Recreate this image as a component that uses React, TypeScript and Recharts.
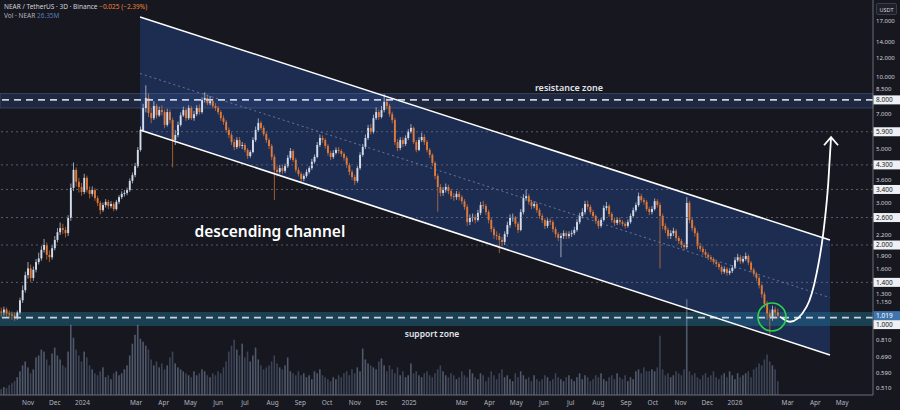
import React from 'react';
import {
    ComposedChart,
    Bar,
    Area,
    Line,
    XAxis,
    YAxis,
    ReferenceArea,
    ReferenceLine,
    ReferenceDot,
} from 'recharts';

// 3D candles, day offsets counted from 1 Nov 2023
const START_DAY = -30;
const STEP = 3;
const FIRST_OPEN = 1.06;

const closes = [
    1.05, 1.08, 1.04, 1.03, 1.02, 1.0, 1.05, 1.18, 1.3, 1.5,
    1.6, 1.46, 1.58, 1.7, 1.76, 1.91, 2.0, 1.82, 1.78, 1.94,
    2.1, 2.26, 2.35, 2.31, 2.24, 2.59, 3.45, 4.1, 3.66, 3.48,
    3.32, 3.8, 3.38, 3.26, 3.38, 3.13, 2.99, 2.79, 2.93, 3.02,
    2.9, 2.96, 2.82, 3.02, 3.16, 3.26, 3.29, 3.38, 3.69, 3.9,
    4.25, 4.96, 6.0, 7.4, 8.15, 7.06, 6.72, 7.55, 6.9, 7.26,
    7.12, 6.3, 7.12, 6.6, 5.45, 5.72, 6.3, 6.9, 7.26, 6.72,
    7.4, 6.72, 6.98, 7.4, 7.12, 7.99, 8.15, 7.75, 7.9, 7.55,
    7.4, 7.12, 6.72, 6.48, 6.0, 5.72, 5.35, 5.1, 5.45, 5.15,
    5.2, 4.96, 4.68, 4.86, 5.45, 6.0, 6.42, 6.12, 5.77, 5.45,
    5.15, 4.64, 4.1, 4.02, 4.17, 4.06, 4.25, 4.6, 4.91, 4.51,
    4.1, 3.94, 3.76, 3.87, 4.02, 4.17, 4.43, 4.64, 5.2, 5.56,
    5.45, 5.15, 4.82, 4.64, 4.82, 4.96, 4.91, 4.77, 4.6, 4.29,
    4.02, 3.83, 3.69, 4.17, 4.73, 5.1, 5.56, 6.12, 5.9, 6.72,
    7.12, 6.79, 7.26, 7.85, 7.55, 6.98, 6.6, 5.35, 5.05, 5.45,
    5.25, 5.56, 5.9, 6.12, 5.35, 4.96, 5.45, 5.61, 5.35, 4.96,
    4.73, 4.38, 3.87, 3.48, 3.29, 3.38, 3.48, 3.35, 3.19, 3.16,
    3.26, 3.16, 3.04, 2.88, 2.49, 2.59, 2.61, 2.54, 2.72, 2.93,
    2.9, 2.74, 2.54, 2.33, 2.2, 2.18, 2.1, 2.06, 2.22, 2.42,
    2.59, 2.6, 2.45, 2.31, 2.74, 3.13, 3.19, 3.02, 2.9, 2.96,
    2.79, 2.64, 2.54, 2.4, 2.52, 2.49, 2.33, 2.22, 2.14, 2.18,
    2.24, 2.18, 2.22, 2.24, 2.31, 2.49, 2.64, 2.74, 2.96, 2.88,
    2.74, 2.64, 2.52, 2.4, 2.54, 2.85, 2.9, 2.69, 2.54, 2.47,
    2.54, 2.49, 2.45, 2.4, 2.49, 2.64, 2.79, 2.93, 3.19, 3.07,
    3.02, 2.82, 2.74, 2.82, 3.04, 2.93, 2.64, 2.4, 2.31, 2.18,
    2.24, 2.29, 2.14, 2.08, 2.0, 1.96, 2.99, 2.54, 2.35, 2.24,
    1.98, 1.93, 1.87, 1.82, 1.78, 1.75, 1.7, 1.67, 1.62, 1.55,
    1.59, 1.53, 1.56, 1.61, 1.73, 1.78, 1.71, 1.75, 1.8, 1.69,
    1.58, 1.52, 1.46, 1.36, 1.25, 1.14, 1.04, 1.0, 1.08, 1.05,
    1.019,
];

const highs = [
    1.1, 1.11, 1.1, 1.07, 1.06, 1.05, 1.07, 1.21, 1.36, 1.55,
    1.7, 1.66, 1.63, 1.75, 1.86, 1.98, 2.12, 2.05, 1.9, 2.0,
    2.18, 2.35, 2.48, 2.45, 2.38, 2.66, 3.6, 4.4, 4.2, 3.8,
    3.62, 3.95, 3.88, 3.5, 3.5, 3.44, 3.2, 3.05, 3.0, 3.1,
    3.08, 3.04, 3.02, 3.08, 3.22, 3.34, 3.38, 3.46, 3.78, 4.0,
    4.38, 5.1, 6.2, 7.7, 9.2, 8.5, 7.4, 7.9, 7.7, 7.5,
    7.6, 7.3, 7.35, 7.3, 6.75, 6.0, 6.5, 7.1, 7.5, 7.4,
    7.6, 7.55, 7.2, 7.6, 7.65, 8.2, 8.6, 8.4, 8.3, 8.1,
    7.75, 7.55, 7.25, 6.9, 6.6, 6.15, 5.85, 5.5, 5.6, 5.6,
    5.35, 5.3, 5.05, 4.95, 5.6, 6.2, 6.7, 6.55, 6.25, 5.9,
    5.55, 5.25, 4.75, 4.25, 4.3, 4.3, 4.35, 4.72, 5.05, 5.0,
    4.6, 4.2, 4.02, 3.95, 4.12, 4.25, 4.55, 4.75, 5.35, 5.75,
    5.7, 5.55, 5.25, 4.92, 4.95, 5.08, 5.1, 5.0, 4.85, 4.68,
    4.38, 4.1, 3.92, 4.25, 4.85, 5.25, 5.75, 6.3, 6.35, 6.95,
    7.45, 7.3, 7.55, 8.45, 8.1, 7.7, 7.15, 6.75, 5.5, 5.6,
    5.6, 5.7, 6.05, 6.35, 6.2, 5.45, 5.6, 5.85, 5.75, 5.45,
    5.05, 4.8, 4.45, 3.95, 3.58, 3.48, 3.6, 3.56, 3.42, 3.28,
    3.35, 3.34, 3.22, 3.1, 2.95, 2.68, 2.7, 2.68, 2.8, 3.02,
    3.05, 2.96, 2.8, 2.6, 2.38, 2.28, 2.24, 2.16, 2.28, 2.5,
    2.68, 2.7, 2.64, 2.5, 2.82, 3.25, 3.4, 3.26, 3.08, 3.04,
    3.0, 2.84, 2.7, 2.58, 2.58, 2.58, 2.54, 2.38, 2.26, 2.24,
    2.3, 2.28, 2.28, 2.3, 2.38, 2.56, 2.72, 2.84, 3.05, 3.06,
    2.94, 2.8, 2.68, 2.56, 2.6, 2.92, 3.02, 2.95, 2.74, 2.6,
    2.6, 2.6, 2.54, 2.5, 2.55, 2.7, 2.86, 3.0, 3.3, 3.26,
    3.14, 3.08, 2.88, 2.9, 3.12, 3.1, 3.0, 2.7, 2.46, 2.36,
    2.3, 2.36, 2.33, 2.18, 2.12, 2.04, 3.16, 3.05, 2.6, 2.4,
    2.28, 2.04, 1.98, 1.92, 1.86, 1.82, 1.78, 1.74, 1.7, 1.65,
    1.63, 1.62, 1.6, 1.65, 1.78, 1.84, 1.82, 1.8, 1.86, 1.83,
    1.72, 1.61, 1.55, 1.49, 1.38, 1.28, 1.17, 1.08, 1.12, 1.11,
    1.09,
];

const lows = [
    1.01, 1.02, 1.01, 0.99, 0.98, 0.97, 0.98, 1.03, 1.15, 1.27,
    1.45, 1.4, 1.42, 1.54, 1.66, 1.72, 1.86, 1.74, 1.7, 1.74,
    1.9, 2.05, 2.2, 2.22, 2.15, 2.18, 2.52, 3.35, 3.5, 3.3,
    3.2, 3.25, 3.3, 3.12, 3.18, 3.05, 2.9, 2.68, 2.74, 2.86,
    2.82, 2.84, 2.76, 2.78, 2.96, 3.1, 3.18, 3.22, 3.32, 3.6,
    3.82, 4.18, 4.88, 5.9, 7.1, 6.8, 6.4, 6.6, 6.7, 6.8,
    6.9, 6.1, 6.2, 6.4, 4.2, 5.2, 5.6, 6.2, 6.8, 6.55,
    6.6, 6.6, 6.55, 6.85, 6.95, 7.0, 7.8, 7.6, 7.6, 7.4,
    7.2, 6.95, 6.55, 6.3, 5.85, 5.55, 5.2, 4.95, 5.0, 5.05,
    5.0, 4.85, 4.55, 4.6, 4.8, 5.35, 5.9, 6.0, 5.65, 5.3,
    5.0, 4.5, 3.07, 3.85, 3.95, 3.95, 3.98, 4.18, 4.52, 4.42,
    4.0, 3.85, 3.62, 3.68, 3.8, 3.95, 4.1, 4.35, 4.58, 5.1,
    5.3, 5.02, 4.7, 4.5, 4.55, 4.75, 4.8, 4.65, 4.48, 4.18,
    3.9, 3.72, 3.55, 3.62, 4.1, 4.65, 5.0, 5.45, 5.75, 5.8,
    6.6, 6.6, 6.7, 7.1, 7.3, 6.8, 6.4, 5.2, 4.9, 4.95,
    5.1, 5.15, 5.45, 5.8, 5.25, 4.85, 4.9, 5.35, 5.2, 4.85,
    4.6, 4.25, 3.75, 2.75, 3.18, 3.2, 3.3, 3.25, 3.1, 3.05,
    3.08, 3.06, 2.95, 2.8, 2.4, 2.42, 2.5, 2.46, 2.5, 2.66,
    2.82, 2.66, 2.46, 2.26, 2.12, 2.1, 1.85, 1.98, 2.0, 2.16,
    2.36, 2.5, 2.38, 2.24, 2.28, 2.68, 3.05, 2.94, 2.82, 2.84,
    2.72, 2.57, 2.47, 2.33, 2.35, 2.42, 2.26, 2.15, 2.08, 1.78,
    2.12, 2.12, 2.13, 2.16, 2.2, 2.27, 2.44, 2.58, 2.68, 2.8,
    2.68, 2.58, 2.45, 2.34, 2.36, 2.5, 2.78, 2.62, 2.48, 2.4,
    2.42, 2.43, 2.39, 2.34, 2.36, 2.45, 2.6, 2.74, 2.88, 3.0,
    2.94, 2.76, 2.66, 2.68, 2.78, 2.86, 1.6, 2.32, 2.24, 2.12,
    2.12, 2.18, 2.08, 2.02, 1.94, 1.9, 1.92, 2.46, 2.28, 2.17,
    1.92, 1.88, 1.82, 1.77, 1.73, 1.7, 1.66, 1.62, 1.58, 1.51,
    1.52, 1.49, 1.5, 1.53, 1.59, 1.7, 1.67, 1.68, 1.72, 1.65,
    1.54, 1.48, 1.42, 1.32, 1.21, 1.1, 0.98, 0.85, 0.97, 1.0,
    0.99,
];

// volume, millions of NEAR
const volumes = [
    6, 8, 7, 10, 12, 14,
    18, 24, 30, 34, 28, 22, 26,
    38, 40, 46, 44, 36, 30, 42, 48, 40, 36,
    30, 28, 44,
    71,
    58, 46, 40, 34, 44, 38, 30,
    26, 22, 20, 24, 28, 18, 20, 16, 22, 24, 20, 22, 26, 30,
    40, 52, 61, 71,
    57, 54, 50, 46,
    36, 30, 34, 28, 32, 26, 30, 38, 44, 32, 28, 26, 24,
    22, 20, 18, 24, 20, 22, 26, 24, 20, 18, 22, 20, 24, 22,
    28, 34, 44, 50, 56, 46, 40, 52, 38, 44,
    34, 40, 48, 36, 30, 26, 28, 30,
    34, 40, 32, 28, 26, 30, 38, 24, 22, 20, 24, 20,
    22, 18, 20, 16, 24, 22, 26, 20, 18, 16, 14, 18, 16, 20, 18, 22, 24, 20, 26, 22, 28, 24,
    47, 36, 32, 30, 28, 26,
    34, 37, 30, 24, 30, 26, 22, 28, 20, 24,
    18, 20, 32, 22, 24, 20, 18, 22, 24, 20, 18, 22, 26, 30, 24, 20, 18, 22, 20, 16, 18, 24,
    20, 18, 26, 22, 18, 16, 22, 20, 14, 18, 24, 20, 16, 22, 26, 18, 20, 16, 14, 22, 18, 24, 20, 16, 18, 14, 20, 16,
    14, 16, 20, 18, 14, 16, 22, 18, 16, 14, 18, 20, 16, 14, 18, 22, 16, 20, 18, 14, 16, 20, 18, 22, 16, 14, 18, 20, 16, 22, 18, 16, 20, 14, 18, 16,
    24, 26, 22, 28, 24, 24, 26, 24, 28, 60, 26,
    20, 22, 18, 20, 24, 22, 20, 26,
    97,
    24, 20, 22, 18, 16, 20, 22, 18, 20, 24, 18, 16, 20, 22, 18, 24, 20, 16, 22, 18, 20, 22, 24, 18, 26,
    28, 32, 30, 36, 41, 34, 30, 26, 14,
];

const monthTicks = [0, 30, 61, 121, 152, 182, 213, 243, 274, 305, 335, 366, 396, 427, 486, 517, 547, 578, 608, 639, 670, 700, 731, 761, 792, 851, 882, 912];
const monthLabels = ['Nov', 'Dec', '2024', 'Mar', 'Apr', 'May', 'Jun', 'Jul', 'Aug', 'Sep', 'Oct', 'Nov', 'Dec', '2025', 'Mar', 'Apr', 'May', 'Jun', 'Jul', 'Aug', 'Sep', 'Oct', 'Nov', 'Dec', '2026', 'Mar', 'Apr', 'May'];

const plainTicks = [17, 14, 12, 10, 8.5, 7, 5, 3.6, 3, 2.2, 1.9, 1.6, 1.3, 1.15, 0.81, 0.69, 0.59, 0.51];
const levelTicks = [8, 5.9, 4.3, 3.4, 2.6, 2, 1.4, 1];
const lastPrice = 1.019;
const priceTicks = [...plainTicks, ...levelTicks, lastPrice];
// nudges so crowded labels next to the boxed levels stay readable
const labelShift: Record<string, number> = { '1': 7, '8.5': -4.5, '3.6': -4, '1.9': 5, '1.3': 3, '1.15': -1 };

const dayDomain = [-31.37, 946.6];
const priceDomain = [0.4774, 20.77];

// drawn channel (start / end)
const channelDays = [125.5, 898.4];
const channelUpper = [17.66, 2.1];
const channelLower = [6.0, 0.7];
const channelMid = [10.29, 1.21];

const resistanceZone = [7.4, 8.5];
const resistanceLevel = 8;
const supportZone = [0.923, 1.055];
const supportLevel = 1;
const dottedLevels = [5.9, 4.3, 3.4, 2.6, 2, 1.4];

// projected move
const arrowDays = [842.4, 853.6, 872.3, 883.5, 890.9, 896.5, 899.6];
const arrowPrices = [1.009, 0.961, 1.11, 1.53, 2.24, 3.62, 5.6];

const circleAt = { d: 833.4, p: 1.006 };
const channelText = { d: 271, p: 2.265 };
const resistanceText = { d: 606, p: 8.95 };
const supportText = { d: 452.6, p: 0.855 };

const UP = '#d3dbeb';
const DOWN = '#e07a38';
const BG = '#16171f';

const candles = closes.map((c, i) => {
    const o = i === 0 ? FIRST_OPEN : closes[i - 1];
    return {
        d: START_DAY + STEP * i,
        range: [lows[i], highs[i]],
        o,
        c,
        v: volumes[i] ?? 0,
        up: c >= o,
    };
});

const channelData = channelDays.map((d, i) => ({
    d,
    band: [channelLower[i], channelUpper[i]],
    hi: channelUpper[i],
    lo: channelLower[i],
    mid: channelMid[i],
}));

const arrowData = arrowDays.map((d, i) => ({ d, p: arrowPrices[i] }));

const Candle = (props: any) => {
    const { x, y, width, height, payload } = props;
    if (payload == null || !isFinite(y) || !isFinite(height)) return null;
    const top = Math.min(y, y + height);
    const h = Math.abs(height);
    const [lo, hi] = payload.range;
    const k = h / (Math.log(hi) - Math.log(lo));
    const py = (p: number) => top + (Math.log(hi) - Math.log(p)) * k;
    const cx = x + width / 2;
    const bTop = py(Math.max(payload.o, payload.c));
    const bBot = py(Math.min(payload.o, payload.c));
    const color = payload.up ? UP : DOWN;
    return (
        <g>
            <line x1={cx} x2={cx} y1={top} y2={top + h} stroke={color} strokeWidth={0.7} />
            <rect x={cx - 0.95} y={bTop} width={1.9} height={Math.max(bBot - bTop, 0.7)} fill={color} />
        </g>
    );
};

const VolumeBar = (props: any) => {
    const { x, y, width, height, payload } = props;
    if (payload == null || !isFinite(y) || !isFinite(height)) return null;
    const cx = x + width / 2;
    return (
        <rect
            x={cx - 0.8}
            y={Math.min(y, y + height)}
            width={1.6}
            height={Math.abs(height)}
            fill={payload.up ? 'rgba(150,170,200,0.45)' : 'rgba(105,122,150,0.45)'}
        />
    );
};

const PriceTick = (props: any) => {
    const { x, y, payload } = props;
    const v: number = payload.value;
    const ty = y + (labelShift[String(v)] ?? 0);
    const txt = v.toFixed(3);
    if (v === lastPrice) {
        return (
            <g>
                <rect x={x - 2.5} y={ty - 4.5} width={27} height={9} fill='#3f74ad' />
                <text x={x} y={ty} dy={2.4} fill='#ffffff' fontSize={6.5}>{txt}</text>
            </g>
        );
    }
    if (levelTicks.includes(v)) {
        return (
            <g>
                <rect x={x - 2.5} y={ty - 4.5} width={27} height={9} fill='#eef0f4' />
                <text x={x} y={ty} dy={2.4} fill='#131722' fontSize={6.5}>{txt}</text>
            </g>
        );
    }
    return <text x={x} y={ty} dy={2.4} fill='#d1d4dc' fontSize={6}>{txt}</text>;
};

const ArrowHead = (props: any) => {
    const { cx, cy, index } = props;
    if (index !== arrowData.length - 1) return <g key={index} />;
    return (
        <polyline
            key={index}
            points={`${cx - 7},${cy + 8} ${cx},${cy} ${cx + 7},${cy + 8}`}
            fill='none'
            stroke='#ffffff'
            strokeWidth={1.8}
        />
    );
};

export default function App() {
    return (
        <div
            style={{
                position: 'relative',
                width: 900,
                height: 410,
                background: BG,
                fontFamily: "'Noto Sans', 'Open Sans', sans-serif",
                overflow: 'hidden',
            }}
        >
            <style>{'body{margin:0;}'}</style>
            <ComposedChart
                width={900}
                height={410}
                data={candles}
                margin={{ top: 0, right: 0, bottom: 0, left: 0 }}
            >
                <XAxis
                    xAxisId='main'
                    dataKey='d'
                    type='number'
                    domain={dayDomain}
                    allowDataOverflow
                    ticks={monthTicks}
                    interval={0}
                    tickFormatter={(v: number) => monthLabels[monthTicks.indexOf(v)] ?? ''}
                    height={15}
                    axisLine={{ stroke: '#6b6e78' }}
                    tickLine={false}
                    tickSize={0}
                    tickMargin={5}
                    tick={{ fill: '#b2b5be', fontSize: 6.5 }}
                />
                <XAxis xAxisId='vx' dataKey='d' type='number' domain={dayDomain} allowDataOverflow hide />
                <YAxis
                    yAxisId='p'
                    orientation='right'
                    scale='log'
                    domain={priceDomain}
                    allowDataOverflow
                    ticks={priceTicks}
                    interval={0}
                    width={27}
                    axisLine={{ stroke: '#6b6e78' }}
                    tickLine={false}
                    tickSize={0}
                    tickMargin={3}
                    tick={<PriceTick />}
                />
                <YAxis yAxisId='vol' hide domain={[0, 400]} allowDataOverflow />

                <Area
                    xAxisId='main'
                    yAxisId='p'
                    data={channelData}
                    dataKey='band'
                    type='linear'
                    stroke='none'
                    fill='#223c72'
                    fillOpacity={0.62}
                    dot={false}
                    activeDot={false}
                    isAnimationActive={false}
                />
                <ReferenceArea
                    xAxisId='main'
                    yAxisId='p'
                    y1={resistanceZone[0]}
                    y2={resistanceZone[1]}
                    fill='#34508a'
                    fillOpacity={0.3}
                    stroke='#56688f'
                    strokeOpacity={0.6}
                    strokeWidth={0.8}
                />
                <ReferenceArea
                    xAxisId='main'
                    yAxisId='p'
                    y1={supportZone[0]}
                    y2={supportZone[1]}
                    fill='#1f7390'
                    fillOpacity={0.45}
                    stroke='none'
                />
                {dottedLevels.map((lv) => (
                    <ReferenceLine
                        key={lv}
                        xAxisId='main'
                        yAxisId='p'
                        y={lv}
                        stroke='#6a6f80'
                        strokeDasharray='2 3'
                        strokeWidth={0.8}
                    />
                ))}
                <Line
                    xAxisId='main'
                    yAxisId='p'
                    data={channelData}
                    dataKey='mid'
                    type='linear'
                    stroke='#7b86a6'
                    strokeDasharray='2 3'
                    strokeWidth={0.8}
                    dot={false}
                    activeDot={false}
                    isAnimationActive={false}
                />
                <Bar
                    xAxisId='vx'
                    yAxisId='vol'
                    dataKey='v'
                    shape={<VolumeBar />}
                    activeBar={false}
                    isAnimationActive={false}
                />
                <Bar
                    xAxisId='main'
                    yAxisId='p'
                    dataKey='range'
                    shape={<Candle />}
                    activeBar={false}
                    isAnimationActive={false}
                />
                <ReferenceLine
                    xAxisId='main'
                    yAxisId='p'
                    y={resistanceLevel}
                    stroke='#c9d1e3'
                    strokeDasharray='7 5'
                    strokeWidth={1.6}
                />
                <ReferenceLine
                    xAxisId='main'
                    yAxisId='p'
                    y={supportLevel}
                    stroke='#c9d1e3'
                    strokeDasharray='7 5'
                    strokeWidth={1.6}
                />
                <Line
                    xAxisId='main'
                    yAxisId='p'
                    data={channelData}
                    dataKey='hi'
                    type='linear'
                    stroke='#ffffff'
                    strokeWidth={1.5}
                    dot={false}
                    activeDot={false}
                    isAnimationActive={false}
                />
                <Line
                    xAxisId='main'
                    yAxisId='p'
                    data={channelData}
                    dataKey='lo'
                    type='linear'
                    stroke='#ffffff'
                    strokeWidth={1.5}
                    dot={false}
                    activeDot={false}
                    isAnimationActive={false}
                />
                <Line
                    xAxisId='main'
                    yAxisId='p'
                    data={arrowData}
                    dataKey='p'
                    type='monotone'
                    stroke='#ffffff'
                    strokeWidth={1.8}
                    dot={<ArrowHead />}
                    activeDot={false}
                    isAnimationActive={false}
                />
                <ReferenceDot
                    xAxisId='main'
                    yAxisId='p'
                    x={circleAt.d}
                    y={circleAt.p}
                    r={14}
                    fill='none'
                    stroke='#2fd14d'
                    strokeWidth={1.6}
                />
                <ReferenceDot
                    xAxisId='main'
                    yAxisId='p'
                    x={channelText.d}
                    y={channelText.p}
                    r={0}
                    fill='none'
                    stroke='none'
                    label={{ value: 'descending channel', position: 'center', fill: '#ffffff', fontSize: 15.5, fontWeight: 600 }}
                />
                <ReferenceDot
                    xAxisId='main'
                    yAxisId='p'
                    x={resistanceText.d}
                    y={resistanceText.p}
                    r={0}
                    fill='none'
                    stroke='none'
                    label={{ value: 'resistance zone', position: 'center', fill: '#e0e3eb', fontSize: 9, fontWeight: 600 }}
                />
                <ReferenceDot
                    xAxisId='main'
                    yAxisId='p'
                    x={supportText.d}
                    y={supportText.p}
                    r={0}
                    fill='none'
                    stroke='none'
                    label={{ value: 'support zone', position: 'center', fill: '#e0e3eb', fontSize: 8.5, fontWeight: 600 }}
                />
            </ComposedChart>

            <div style={{ position: 'absolute', left: 4, top: 2, fontSize: 6.5, lineHeight: '9px', whiteSpace: 'nowrap' }}>
                <div>
                    <span style={{ color: '#d1d4dc' }}>NEAR / TetherUS · 3D · Binance </span>
                    <span style={{ color: '#f0823c' }}>−0.025 (−2.39%)</span>
                </div>
                <div>
                    <span style={{ color: '#b2b5be' }}>Vol · NEAR </span>
                    <span style={{ color: '#5b7cb3' }}>26.35M</span>
                </div>
            </div>
            <div
                style={{
                    position: 'absolute',
                    left: 876,
                    top: 3,
                    width: 21,
                    height: 12,
                    border: '1px solid #3a3d48',
                    borderRadius: 2,
                    background: '#1e2029',
                    color: '#d1d4dc',
                    fontSize: 5.5,
                    lineHeight: '12px',
                    textAlign: 'center',
                    boxSizing: 'border-box',
                }}
            >
                USDT
            </div>
        </div>
    );
}
